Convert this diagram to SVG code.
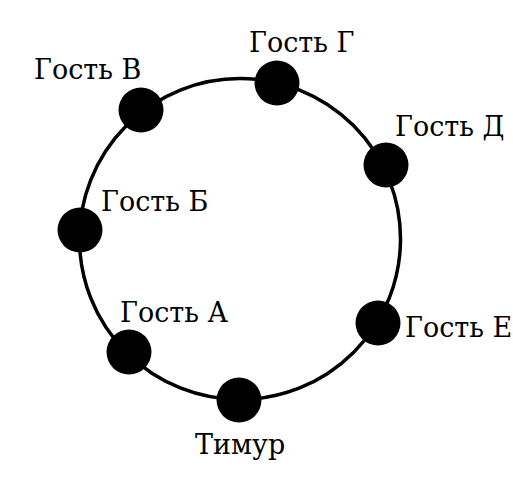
<svg xmlns="http://www.w3.org/2000/svg" width="513" height="477" viewBox="0 0 513 477">
<style>
.ring{fill:none;stroke:#000;stroke-width:3.5}
.dot{fill:#000}
.lbl{font-family:'DejaVu Serif',serif;font-size:27px;fill:#000}
</style>
<rect width="513" height="477" fill="#fff"/>
<g id="connectors">
<circle class="ring" cx="240" cy="239" r="160.5"/>
</g>
<g id="node-timur"><circle class="dot" cx="239" cy="400" r="22.5"/><text class="lbl" x="195" y="454">Тимур</text></g>
<g id="node-a"><circle class="dot" cx="129" cy="352" r="22.5"/><text class="lbl" x="120" y="322">Гость А</text></g>
<g id="node-b"><circle class="dot" cx="80" cy="230" r="22.5"/><text class="lbl" x="101" y="211">Гость Б</text></g>
<g id="node-v"><circle class="dot" cx="141" cy="110" r="22.5"/><text class="lbl" x="34" y="79">Гость В</text></g>
<g id="node-g"><circle class="dot" cx="277" cy="83" r="22.5"/><text class="lbl" x="249" y="52">Гость Г</text></g>
<g id="node-d"><circle class="dot" cx="386" cy="165" r="22.5"/><text class="lbl" x="395" y="136">Гость Д</text></g>
<g id="node-e"><circle class="dot" cx="378" cy="323" r="22.5"/><text class="lbl" x="405" y="337">Гость Е</text></g>
</svg>
